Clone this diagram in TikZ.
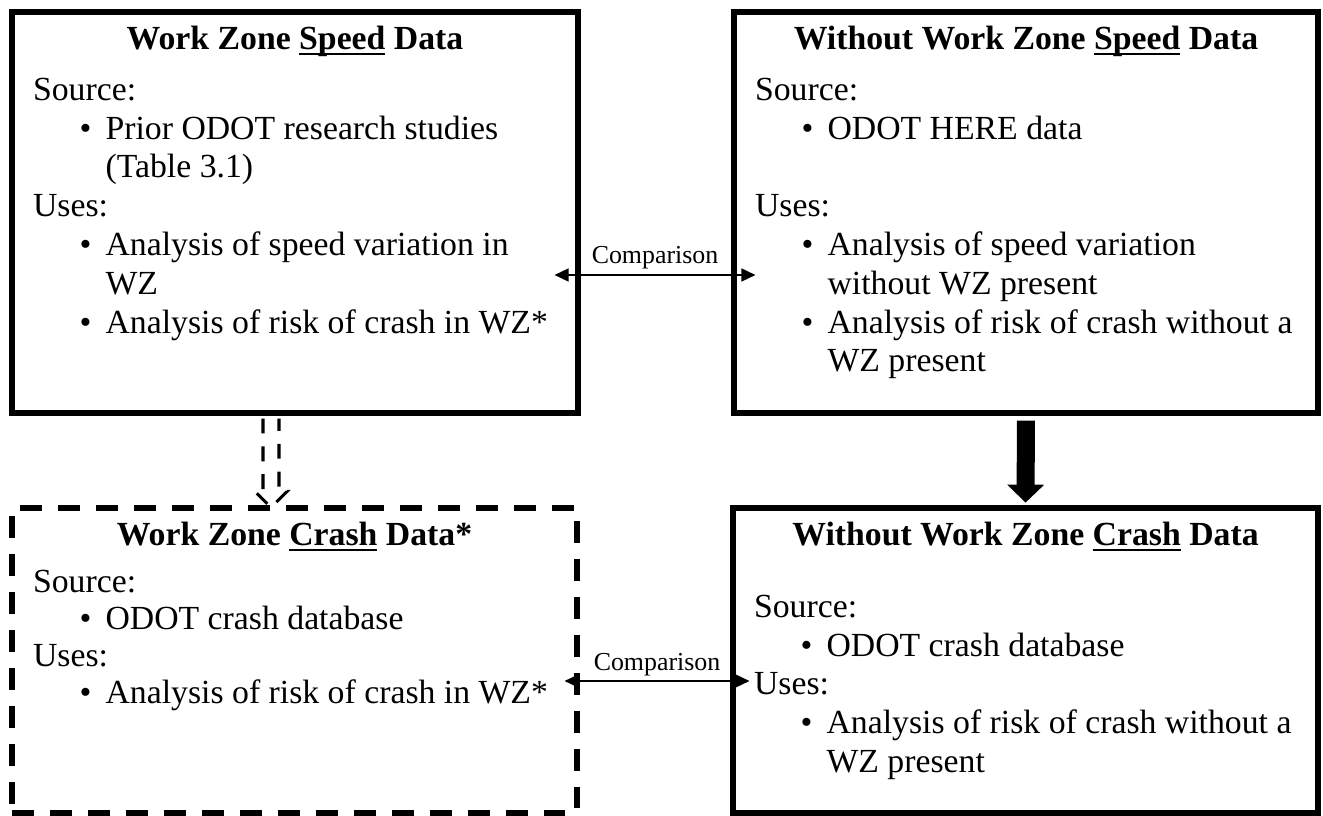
\documentclass[tikz,border=0pt,12pt]{standalone}
\usepackage{fontspec}
\setmainfont{Liberation Serif}
\usepackage{tikz}
\usetikzlibrary{arrows.meta,fit,calc}

% thick underline for the key word of a heading
\newsavebox{\uwordbox}
\newcommand{\uword}[1]{\sbox{\uwordbox}{#1}\rlap{\rule[-1.9pt]{\wd\uwordbox}{0.75pt}}\usebox{\uwordbox}}
% bullet line and its continuation
\newcommand{\bitem}[1]{\hspace*{16.6pt}\makebox[9.2pt][l]{\textbullet}#1}
\newcommand{\bcont}{\hspace*{25.8pt}}

\begin{document}
\begin{tikzpicture}[x=0.0125cm, y=-0.0125cm,
			databox/.style = {draw, line width=1.8pt, inner sep=0pt},
			dashbox/.style = {databox, dash pattern=on 7.8pt off 5.7pt},
			headtext/.style = {font=\bfseries, anchor=base, inner sep=0pt},
			bodytext/.style = {font=\fontsize{12}{13.8}\selectfont,
				align=left, anchor=north west, inner sep=0pt},
			tightbody/.style = {bodytext, font=\fontsize{12}{13.1}\selectfont},
			cmp/.style = {line width=0.7pt,
				{Triangle[length=5pt,width=4.6pt]}-{Triangle[length=5pt,width=4.6pt]}},
			cmplabel/.style = {font=\fontsize{9.2}{11}\selectfont, anchor=base, inner sep=0pt}]
		\useasboundingbox (0,0) rectangle (1323,816);

		% the four data boxes
		\node[databox, fit={(12,12) (578,413)}] (wzspeed) {};
		\node[databox, fit={(734,12) (1318,413)}] (wospeed) {};
		\node[dashbox, fit={(12,508) (577,813)}] (wzcrash) {};
		\node[databox, fit={(733,508) (1318,813)}] (wocrash) {};

		% headings
		\node[headtext] at ($(wzspeed.north)+(0,40)$) {Work Zone \uword{Speed} Data};
		\node[headtext] at ($(wospeed.north)+(0,40)$) {Without Work Zone \uword{Speed} Data};
		\node[headtext] at ($(wzcrash.north)+(0,40)$) {Work Zone \uword{Crash} Data*};
		\node[headtext] at ($(wocrash.north)+(0,40)$) {Without Work Zone \uword{Crash} Data};

		% box contents (first line carries a strut, so north sits a strut above its baseline)
		\node[bodytext] (wzspeedtxt) at ($(wzspeed.north west)+(23,63)$) {\strut Source:\\
			\bitem{Prior ODOT research studies}\\
			\bcont(Table 3.1)\\
			Uses:\\
			\bitem{Analysis of speed variation in}\\
			\bcont WZ\\
			\bitem{Analysis of risk of crash in WZ*}};
		\node[bodytext] (wospeedtxt) at ($(wospeed.north west)+(23,63)$) {\strut Source:\\
			\bitem{ODOT HERE data}\\
			\mbox{}\\
			Uses:\\
			\bitem{Analysis of speed variation}\\
			\bcont without WZ present\\
			\bitem{Analysis of risk of crash without a}\\
			\bcont WZ present};
		\node[tightbody] (wzcrashtxt) at ($(wzcrash.north west)+(23,61)$) {\strut Source:\\
			\bitem{ODOT crash database}\\
			Uses:\\
			\bitem{Analysis of risk of crash in WZ*}};
		\node[bodytext] (wocrashtxt) at ($(wocrash.north west)+(23,84)$) {\strut Source:\\
			\bitem{ODOT crash database}\\
			Uses:\\
			\bitem{Analysis of risk of crash without a}\\
			\bcont WZ present};

		% comparisons
		\draw[cmp] ([shift={(-26,62.5)}]wzspeed.east) -- ([shift={(24,62.5)}]wospeed.west)
			node[cmplabel, midway, yshift=4.2pt] {Comparison};
		\draw[cmp] ([shift={(-15,20.5)}]wzcrash.east) -- ([shift={(19,20.5)}]wocrash.west)
			node[cmplabel, midway, yshift=3.9pt] {Comparison};

		% speed data leads on to crash data
		\draw[line width=6.4pt, shorten <=1.8pt, shorten >=1pt,
			-{Triangle[length=6.4pt,width=12.8pt]}] (wospeed.south) -- (wocrash.north);
		\begin{scope}[shift={(wzspeed.south)}]
			\draw[line width=1.1pt, dash pattern=on 5.3pt off 4.6pt]
				(-32,3) -- (-32,76) -- (-40,76) -- (-24,92) -- (-8,76) -- (-16,76) -- (-16,3);
		\end{scope}
\end{tikzpicture}
\end{document}
